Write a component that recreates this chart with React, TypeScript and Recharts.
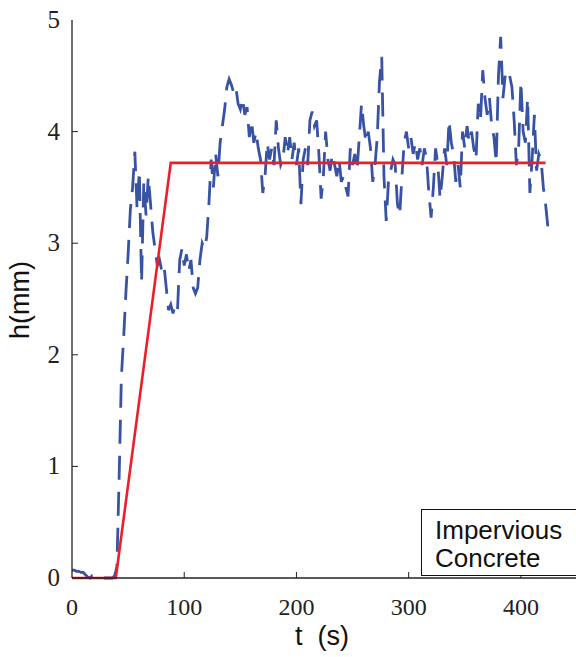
import { Line, LineChart, XAxis, YAxis } from "recharts"

// measured flow depth, sampled every 2 s from t = 0
const sampleStep = 2
const measuredDepth = [
  0.07, 0.07, 0.06, 0.06, 0.05, 0.05, 0.03, 0.01, 0.0, 0.02,
  0.01, 0.0, 0.0, 0.0, 0.0, 0.0, 0.0, 0.0, 0.0, 0.02,
  0.1, 0.9, 1.8, 2.15, 2.55, 2.9, 3.3, 3.5, 3.82, 3.3,
  3.65, 2.65, 3.55, 3.25, 3.6, 3.35, 3.1, 2.95, 2.8, 2.85,
  2.75, 2.8, 2.6, 2.4, 2.45, 2.37, 2.45, 2.4, 2.85, 2.95,
  2.8, 2.9, 2.75, 2.85, 2.6, 2.55, 2.6, 2.85, 3.0, 2.95,
  3.05, 3.35, 3.75, 3.5, 3.8, 3.6, 3.9, 4.05, 4.2, 4.4,
  4.47, 4.42, 4.35, 4.4, 4.25, 4.2, 4.3, 4.15, 4.22, 3.95,
  4.1, 3.9, 4.0, 3.85, 3.75, 3.45, 3.6, 3.9, 3.75, 3.85,
  3.7, 4.1, 3.85, 3.7, 3.75, 3.95, 3.8, 3.95, 3.75, 3.9,
  3.7, 3.85, 3.35, 3.75, 3.85, 3.7, 4.1, 4.18, 4.05, 4.1,
  3.8, 3.4, 3.6, 4.0, 3.75, 3.65, 3.8, 3.7, 3.6, 3.75,
  3.55, 3.6, 3.5, 3.42, 3.85, 3.7, 3.8, 3.65, 3.95, 4.25,
  4.05, 3.9, 4.0, 3.85, 3.55, 3.7, 3.95, 4.45, 4.67, 3.6,
  3.2, 3.55, 3.65, 3.75, 3.7, 3.35, 3.25, 3.6, 3.9, 4.0,
  3.85, 3.95, 3.8, 3.9, 3.75, 3.85, 3.7, 3.85, 3.75, 3.45,
  3.23, 3.5, 3.85, 3.7, 3.4, 3.6, 3.85, 3.7, 4.1, 3.9,
  3.8, 3.55, 3.7, 3.5, 4.0, 3.85, 4.05, 3.9, 4.0, 3.85,
  3.75, 4.25, 4.1, 4.55, 4.3, 4.15, 4.3, 4.05, 3.95, 3.72,
  4.5, 4.85, 4.3, 4.5, 4.45, 4.5, 4.4, 4.1, 3.7, 3.85,
  4.45, 4.0, 3.9, 4.3, 3.45, 3.75, 4.15, 3.65, 3.8, 3.75,
  3.5, 3.35, 3.15,
]

// fitted trapezoidal hydrograph
const fitTimes = [0, 39, 88, 422]
const fitDepth = [0, 0, 3.72, 3.72]

const xTicks = [0, 100, 200, 300, 400]
const yTicks = [0, 1, 2, 3, 4, 5]
const legendLines = ["Impervious", "Concrete"]

const measured = measuredDepth.map((h, i) => ({ t: i * sampleStep, h }))
const fit = fitTimes.map((t, i) => ({ t, h: fitDepth[i] }))

const axisColor = "#222"
const serif = "'Liberation Serif', 'Times New Roman', serif"
const sans = "'Liberation Sans', Arial, sans-serif"

const BottomTick = ({ x, y, payload }: any) => (
  <g>
    {payload.value !== 0 && <line x1={x} x2={x} y1={y} y2={y - 6} stroke={axisColor} />}
    <text x={x} y={y + 37} textAnchor="middle" fontFamily={serif} fontSize={24} fill="#222">
      {payload.value}
    </text>
  </g>
)

const TopTick = ({ x, y, payload }: any) =>
  payload.value === 0 ? <g /> : <line x1={x} x2={x} y1={y} y2={y + 6} stroke={axisColor} />

const LeftTick = ({ x, y, payload }: any) => (
  <g>
    {payload.value !== 0 && payload.value !== 5 && (
      <line x1={x} x2={x + 6} y1={y} y2={y} stroke={axisColor} />
    )}
    <text x={x - 12} y={y + 8} textAnchor="end" fontFamily={serif} fontSize={25} fill="#222">
      {payload.value}
    </text>
  </g>
)

const RightTick = ({ x, y, payload }: any) =>
  payload.value === 0 || payload.value === 5 ? (
    <g />
  ) : (
    <line x1={x} x2={x - 6} y1={y} y2={y} stroke={axisColor} />
  )

export default function App() {
  return (
    <div
      style={{
        position: "fixed",
        left: 0,
        top: 0,
        width: 576,
        height: 657,
        overflow: "hidden",
        background: "#fff",
      }}
    >
      <LineChart width={580} height={657} margin={{ top: 20, right: 3, bottom: 0, left: 0 }}>
        <XAxis
          dataKey="t"
          type="number"
          domain={[0, 450]}
          ticks={xTicks}
          interval={0}
          height={79}
          tickSize={0}
          tickMargin={0}
          tick={BottomTick}
          axisLine={{ stroke: axisColor, strokeWidth: 1.3 }}
        />
        <XAxis
          xAxisId="top"
          orientation="top"
          type="number"
          domain={[0, 450]}
          ticks={xTicks}
          interval={0}
          height={0}
          tickSize={0}
          tickMargin={0}
          tick={TopTick}
          axisLine={{ stroke: axisColor, strokeWidth: 1.3 }}
        />
        <YAxis
          type="number"
          domain={[0, 5]}
          ticks={yTicks}
          interval={0}
          width={72}
          tickSize={0}
          tickMargin={0}
          tick={LeftTick}
          axisLine={{ stroke: axisColor, strokeWidth: 1.3 }}
        />
        <YAxis
          yAxisId="right"
          orientation="right"
          type="number"
          domain={[0, 5]}
          ticks={yTicks}
          interval={0}
          width={0}
          tickSize={0}
          tickMargin={0}
          tick={RightTick}
          axisLine={{ stroke: axisColor, strokeWidth: 1.3 }}
        />
        <Line
          data={measured}
          dataKey="h"
          type="linear"
          stroke="#3953a4"
          strokeWidth={2.8}
          strokeDasharray="24 12"
          dot={false}
          isAnimationActive={false}
        />
        <Line
          data={fit}
          dataKey="h"
          type="linear"
          stroke="#ec1f28"
          strokeWidth={2.6}
          dot={false}
          isAnimationActive={false}
        />
      </LineChart>

      <div
        style={{
          position: "absolute",
          left: -40,
          top: 285,
          width: 120,
          height: 30,
          lineHeight: "30px",
          textAlign: "center",
          transform: "rotate(-90deg)",
          fontFamily: sans,
          fontSize: 27,
          color: "#111",
        }}
      >
        h(mm)
      </div>
      <div
        style={{
          position: "absolute",
          left: 222,
          top: 621,
          width: 200,
          height: 30,
          lineHeight: "30px",
          textAlign: "center",
          fontFamily: sans,
          fontSize: 27,
          color: "#111",
          whiteSpace: "pre",
        }}
      >
        {"t  (s)"}
      </div>
      <div
        style={{
          position: "absolute",
          left: 421,
          top: 509,
          width: 160,
          height: 67,
          boxSizing: "border-box",
          border: "1.5px solid #111",
          background: "#fff",
          paddingLeft: 13,
          paddingTop: 6,
          fontFamily: sans,
          fontSize: 26,
          lineHeight: "28px",
          color: "#111",
        }}
      >
        {legendLines.map((l) => (
          <div key={l}>{l}</div>
        ))}
      </div>
    </div>
  )
}
